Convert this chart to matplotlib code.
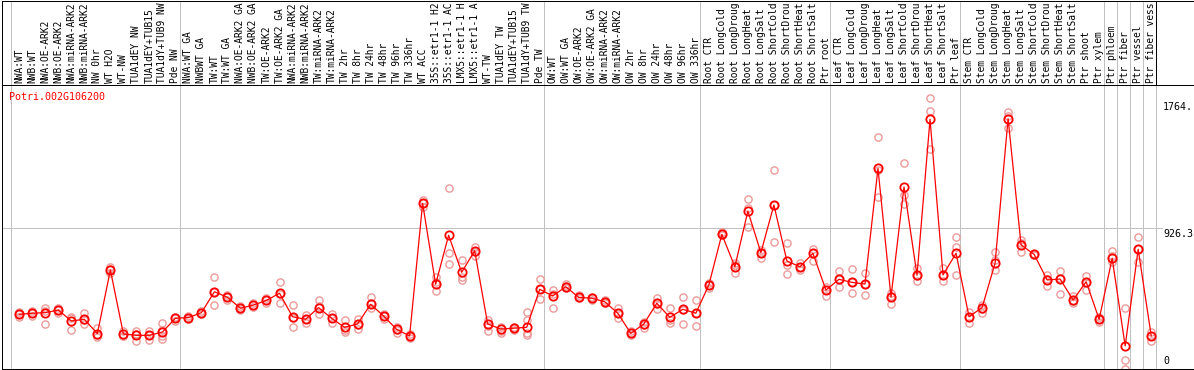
import matplotlib
matplotlib.use('Agg')
import matplotlib.pyplot as plt

gene = 'Potri.002G106200'

# column labels as they appear (the header cuts them at 14 characters)
labels = [
    'NWA:WT', 'NWB:WT', 'NWA:OE-ARK2', 'NWB:OE-ARK2', 'NWA:miRNA-ARK2', 'NWB:miRNA-ARK2',
    'NW 0hr', 'WT H2O', 'WT-NW', 'TUA1dEY NW', 'TUA1dEY+TUB15', 'TUA1dY+TUB9 NW', 'Pde NW',
    'NWA:WT GA', 'NWBWT GA', 'TW:WT', 'TW:WT GA', 'NWA:OE-ARK2 GA', 'NWB:OE-ARK2 GA',
    'TW:OE-ARK2', 'TW:OE-ARK2 GA', 'NWA:miRNA-ARK2', 'NWB:miRNA-ARK2', 'TW:miRNA-ARK2',
    'TW:miRNA-ARK2', 'TW 2hr', 'TW 8hr', 'TW 24hr', 'TW 48hr', 'TW 96hr', 'TW 336hr',
    'WT ACC', '35S::etr1-1 H2', '35S::etr1-1 AC', 'LMX5::etr1-1 H', 'LMX5::etr1-1 A',
    'WT-TW', 'TUA1dEY TW', 'TUA1dEY+TUB15', 'TUA1dY+TUB9 TW', 'Pde TW',
    'OW:WT', 'OW:WT GA', 'OW:OE-ARK2', 'OW:OE-ARK2 GA', 'OW:miRNA-ARK2', 'OW:miRNA-ARK2',
    'OW 2hr', 'OW 8hr', 'OW 24hr', 'OW 48hr', 'OW 96hr', 'OW 336hr',
    'Root CTR', 'Root LongCold', 'Root LongDroug', 'Root LongHeat', 'Root LongSalt',
    'Root ShortCold', 'Root ShortDrou', 'Root ShortHeat', 'Root ShortSalt', 'Ptr root',
    'Leaf CTR', 'Leaf LongCold', 'Leaf LongDroug', 'Leaf LongHeat', 'Leaf LongSalt',
    'Leaf ShortCold', 'Leaf ShortDrou', 'Leaf ShortHeat', 'Leaf ShortSalt', 'Ptr leaf',
    'Stem CTR', 'Stem LongCold', 'Stem LongDroug', 'Stem LongHeat', 'Stem LongSalt',
    'Stem ShortCold', 'Stem ShortDrou', 'Stem ShortHeat', 'Stem ShortSalt', 'Ptr shoot',
    'Ptr xylem', 'Ptr phloem', 'Ptr fiber', 'Ptr vessel', 'Ptr fiber vess',
]

means = [
    358, 365, 369, 386, 314, 325, 230, 651, 228, 219, 219, 241, 332,
    336, 369, 507, 470, 398, 419, 450, 497, 342, 325, 402, 332, 272, 294, 424, 347, 259, 215,
    1091, 556, 880, 635, 778, 294, 261, 266, 272, 523,
    479, 540, 470, 464, 441, 365, 232, 294, 431, 338, 391, 365,
    552, 886, 672, 1040, 765, 1080, 710, 672, 761, 518,
    589, 569, 558, 1322, 472, 1199, 616, 1646, 618, 761,
    342, 402, 695, 1650, 816, 754, 585, 591, 452, 573, 325,
    728, 149, 787, 217,
]

reps = [
    [375, 342, 359], [380, 347, 366], [398, 294, 380], [402, 369, 386], [342, 254, 333],
    [369, 292, 320], [266, 210, 221], [672, 629, 657], [250, 215, 215], [250, 184, 228],
    [250, 188, 221], [299, 193, 215, 254], [342, 316, 333],
    [347, 334, 327], [382, 360, 367], [602, 419, 505], [485, 452, 472], [413, 386, 400],
    [433, 406, 419], [466, 433, 452], [569, 431, 492], [419, 272, 333], [351, 303, 327],
    [452, 358, 413], [360, 303, 333], [320, 239, 254], [325, 259, 287], [470, 398, 433],
    [360, 325, 347], [276, 236, 254], [228, 201, 215], [1113, 1069, 1093], [606, 510, 571],
    [1190, 761, 688], [717, 585, 604], [801, 743, 769], [320, 250, 281], [276, 232, 248],
    [276, 254, 268], [375, 320, 234, 221], [589, 457, 525],
    [518, 398, 492], [556, 532, 545], [483, 464, 472], [472, 452, 465], [452, 433, 439],
    [402, 332, 367], [248, 221, 234], [309, 266, 287], [464, 391, 426], [398, 299, 320],
    [470, 294, 386], [452, 281, 366],
    [565, 532, 552], [904, 882, 888], [699, 633, 684], [1120, 937, 1058], [783, 728, 763],
    [1311, 838, 1080], [827, 684, 622], [695, 651, 672], [789, 712, 761], [540, 479, 518],
    [644, 536, 589], [657, 497, 571], [629, 485, 558], [1527, 1131, 1310], [499, 428, 479],
    [1355, 1146, 1085], [662, 578, 611], [1785, 1701, 1448], [666, 578, 618], [871, 801, 616],
    [375, 299, 340], [419, 365, 393], [771, 651, 717], [1692, 1590, 1668], [849, 771, 829],
    [754, 750, 758], [618, 547, 591], [644, 490, 597], [479, 433, 445], [613, 518, 565],
    [342, 307, 327],
    [776, 701, 743], [398, 56, 0], [871, 701, 787], [243, 217, 179],
]

group_edges = [0, 13, 41, 53, 63, 73, 84, 85, 86, 87, 88]
scale_labels = ['1764.', '926.3', '0']
scale_values = [1764, 926.3, 0]

W, H = 1194, 370
fig = plt.figure(figsize=(W / 100, H / 100), dpi=100)
fig.patch.set_facecolor('white')

ax = fig.add_axes([2 / W, 1.5 / H, 1192 / W, 283.5 / H])
hx = fig.add_axes([2 / W, 285 / H, 1192 / W, 84.5 / H], sharex=ax)

mono = 'DejaVu Sans Mono'
fs = 7.2
grey = '#c0c0c0'
lw = 0.72

ax.set_xlim(-1.33, 90.29)
ax.set_ylim(0, 1872.5)
hx.set_ylim(0, 84.5)

for a in (ax, hx):
    a.set_xticks([])
    a.set_yticks([])
    a.spines['right'].set_visible(False)
    for s in ('left', 'top', 'bottom'):
        a.spines[s].set_color('black')
        a.spines[s].set_linewidth(lw)
ax.spines['top'].set_visible(False)

# column group separators
for k in group_edges:
    ax.axvline(k - 0.661, color=grey, lw=lw, zorder=1)
    hx.axvline(k - 0.661, color='black' if k == 88 else grey, lw=lw, zorder=1)

ax.axhline(926.3, xmin=0, xmax=(1162 - 2) / 1192, color=grey, lw=lw, zorder=1)

# replicates
rx, ry = [], []
for i, r in enumerate(reps):
    for v in r:
        rx.append(i)
        ry.append(v)
ax.plot(rx, ry, 'o', ms=5.2, mfc='none', mec='#ec9a9a', mew=1.0, zorder=2)

# means
xs = list(range(len(means)))
ax.plot(xs, means, '-', color='red', lw=0.9, zorder=3)
ax.plot(xs, means, 'o', ms=6, mfc='none', mec='red', mew=1.3, zorder=4)

# column labels
for i, lab in enumerate(labels):
    hx.text(i, 1.6, lab, rotation=90, ha='center', va='bottom', fontsize=6.95,
            family=mono, color='black')

ax.text((9.3 - 2) / 1192, 0.975, gene, transform=ax.transAxes, ha='left', va='top',
        fontsize=fs, family=mono, color='red')

xl = (1163 - 2) / 1192
for lab, v in zip(scale_labels, scale_values):
    if v == 0:
        ax.annotate(lab, xy=(xl, v), xycoords=('axes fraction', 'data'),
                    xytext=(0, 3), textcoords='offset pixels', ha='left', va='bottom',
                    fontsize=fs, family=mono, color='black')
    else:
        ax.annotate(lab, xy=(xl, v), xycoords=('axes fraction', 'data'),
                    xytext=(0, -1), textcoords='offset pixels', ha='left', va='top',
                    fontsize=fs, family=mono, color='black')

fig.savefig('out.png', dpi=100)
